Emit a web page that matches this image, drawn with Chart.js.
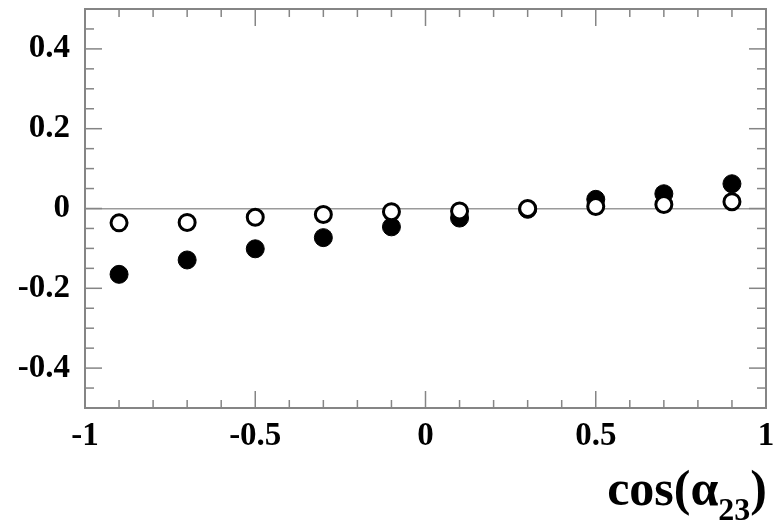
<!DOCTYPE html>
<html><head><meta charset="utf-8">
<script src="https://cdn.jsdelivr.net/npm/chart.js@4"></script>
<style>html,body{margin:0;padding:0;background:#fff}</style>
</head><body><canvas id="c" width="774" height="524"></canvas>
<script>
const xValues = [-0.9, -0.7, -0.5, -0.3, -0.1, 0.1, 0.3, 0.5, 0.7, 0.9];
const filledValues = [-0.165, -0.129, -0.101, -0.073, -0.046, -0.024, -0.002, 0.023, 0.037, 0.062];
const openValues = [-0.036, -0.035, -0.022, -0.015, -0.008, -0.006, 0.0, 0.005, 0.010, 0.017];
const xTickValues = [-1, -0.5, 0, 0.5, 1];
const xTickLabels = ['-1', '-0.5', '0', '0.5', '1'];
const yTickValues = [-0.4, -0.2, 0, 0.2, 0.4];
const yTickLabels = ['-0.4', '-0.2', '0', '0.2', '0.4'];
const xTitleMain = 'cos(\u03B1';
const xTitleSub = '23';
const xTitleEnd = ')';

const FONT = "'Liberation Serif', 'Times New Roman', serif";
const AXIS = '#858585';

function pts(vals) { return xValues.map((x, i) => ({x: x, y: vals[i]})); }

const framePlugin = {
  id: 'frame',
  beforeDatasetsDraw(chart) {
    const {ctx, chartArea: a, scales: {x, y}} = chart;
    ctx.save();
    ctx.strokeStyle = AXIS;
    ctx.lineWidth = 1.5;
    const line = (x1, y1, x2, y2) => { ctx.beginPath(); ctx.moveTo(x1, y1); ctx.lineTo(x2, y2); ctx.stroke(); };
    for (let k = -10; k <= 10; k++) {
      const v = k / 10;
      const px = x.getPixelForValue(v);
      const len = (k % 5 === 0) ? 17 : 8;
      line(px, a.bottom, px, a.bottom - len);
      line(px, a.top, px, a.top + len);
    }
    for (let k = -10; k <= 10; k++) {
      const v = k / 20;
      const py = y.getPixelForValue(v);
      const len = (k % 4 === 0) ? 17 : 9;
      line(a.left, py, a.left + len, py);
      line(a.right, py, a.right - len, py);
    }
    ctx.lineWidth = 2;
    ctx.strokeRect(a.left, a.top, a.right - a.left, a.bottom - a.top);
    ctx.restore();
  },
  afterDraw(chart) {
    const ctx = chart.ctx;
    ctx.save();
    ctx.fillStyle = '#000';
    ctx.textBaseline = 'alphabetic';
    const mainFont = 'bold 50px ' + FONT;
    const subFont = 'bold 32px ' + FONT;
    ctx.font = mainFont;
    const w1 = ctx.measureText(xTitleMain).width;
    const w3 = ctx.measureText(xTitleEnd).width;
    ctx.font = subFont;
    const w2 = ctx.measureText(xTitleSub).width;
    const right = 767;
    let xs = right - (w1 + w2 + w3);
    ctx.font = mainFont;
    ctx.fillText(xTitleMain, xs, 505);
    ctx.font = subFont;
    ctx.fillText(xTitleSub, xs + w1, 520);
    ctx.font = mainFont;
    ctx.fillText(xTitleEnd, xs + w1 + w2, 505);
    ctx.restore();
  }
};

new Chart(document.getElementById('c'), {
  type: 'scatter',
  data: {
    datasets: [
      {
        label: 'open',
        data: pts(openValues),
        order: 0,
        pointRadius: 8,
        pointBorderWidth: 3,
        pointBackgroundColor: '#fff',
        pointBorderColor: '#000',
        showLine: false
      },
      {
        label: 'filled',
        data: pts(filledValues),
        order: 1,
        pointRadius: 9,
        pointBorderWidth: 1,
        pointBackgroundColor: '#000',
        pointBorderColor: '#000',
        showLine: false
      }
    ]
  },
  options: {
    responsive: false,
    animation: false,
    layout: {autoPadding: false, padding: {top: 9, right: 8, left: 0, bottom: 0}},
    plugins: {legend: {display: false}, tooltip: {enabled: false}},
    scales: {
      x: {
        type: 'linear', min: -1, max: 1,
        afterBuildTicks: s => { s.ticks = xTickValues.map(v => ({value: v})); },
        afterFit: s => { s.height = 116; s.paddingLeft = 0; s.paddingRight = 0; s.paddingTop = 0; s.paddingBottom = 0; },
        ticks: {
          callback: (v, i) => xTickLabels[i],
          font: {family: FONT, weight: 'bold', size: 33},
          color: '#000', padding: 9, maxRotation: 0, autoSkip: false
        },
        grid: {display: false, drawTicks: false},
        border: {display: false}
      },
      y: {
        type: 'linear', min: -0.5, max: 0.5,
        afterBuildTicks: s => { s.ticks = yTickValues.map(v => ({value: v})); },
        afterFit: s => { s.width = 85; s.paddingLeft = 0; s.paddingRight = 0; s.paddingTop = 0; s.paddingBottom = 0; },
        ticks: {
          callback: (v, i) => yTickLabels[i],
          font: {family: FONT, weight: 'bold', size: 33},
          color: '#000', padding: 15, autoSkip: false
        },
        grid: {
          drawTicks: false,
          lineWidth: 1.5,
          color: c => (c.tick && c.tick.value === 0) ? '#9a9a9a' : 'rgba(0,0,0,0)'
        },
        border: {display: false}
      }
    }
  },
  plugins: [framePlugin]
});
</script>
</body></html>
